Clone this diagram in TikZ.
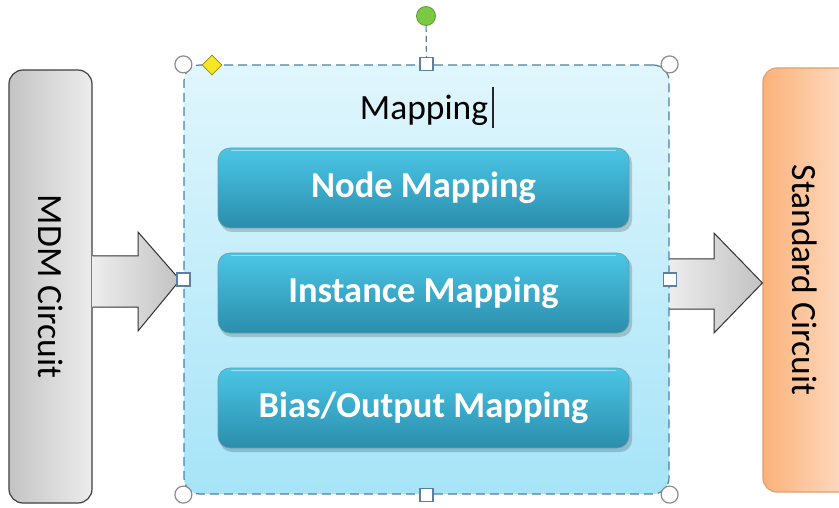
\documentclass[tikz,border=0pt]{standalone}
\usepackage{fontspec}
\setmainfont{Carlito}
\usetikzlibrary{calc,shapes.geometric}
\definecolor{mdmL}{HTML}{C4C4C4}
\definecolor{mdmR}{HTML}{ECECEC}
\definecolor{stdL}{HTML}{FBB27A}
\definecolor{stdR}{HTML}{FDE3D0}
\definecolor{mapT}{HTML}{E0F6FD}
\definecolor{mapB}{HTML}{A6E4F7}
\definecolor{mapD}{HTML}{4F7FA8}
\definecolor{btnT}{HTML}{4BC6E6}
\definecolor{btnB}{HTML}{2B8DAC}
\definecolor{btnE}{HTML}{1F7390}
\definecolor{arrL}{HTML}{EDEDED}
\definecolor{arrR}{HTML}{C2C2C2}
\definecolor{hdl}{HTML}{8A8A8A}
\definecolor{hsq}{HTML}{5A7FA0}
\definecolor{grn}{HTML}{7BC943}
\definecolor{grnD}{HTML}{5C9A32}
\definecolor{ylw}{HTML}{F7E626}
\tikzset{
  bigfont/.style={font=\fontsize{35.5}{42}\selectfont},
  sidebox/.style={rounded corners=14pt, line width=1.2pt, minimum width=83pt, inner sep=0pt, bigfont},
  btn/.style={rounded corners=12pt, minimum width=411pt, minimum height=80pt, inner sep=0pt,
    top color=btnT, bottom color=btnB, draw=btnE!70, line width=0.6pt,
    text=white, font=\fontsize{36.5}{42}\selectfont\bfseries},
  btnshadow/.style={rounded corners=12pt, fill=black, opacity=0.18},
  blockarrow/.style={draw=black!80, line width=1pt, line join=miter, left color=arrL, right color=arrR},
  corner/.style={circle, fill=white, draw=hdl, line width=1.2pt, minimum size=17pt, inner sep=0pt},
  sq/.style={rectangle, fill=white, draw=hsq, line width=1.2pt, minimum size=13pt, inner sep=0pt},
}
\begin{document}
\begin{tikzpicture}[x=1pt,y=-1pt]
\useasboundingbox (0,0) rectangle (839,508);
% side boxes
\node[sidebox, draw=black!75, left color=mdmL, right color=mdmR, minimum height=433pt] (mdm) at (50.5,286.5) {};
\node[bigfont, rotate=-90] (mdmtxt) at (mdm.center) {MDM Circuit};
\node[sidebox, draw=stdL!90!black, left color=stdL, right color=stdR, minimum width=100pt, minimum height=424pt] (std) at (813,280) {};
\node[bigfont, rotate=-90] (stdtxt) at (805,280) {Standard Circuit};
% block arrows
\coordinate (a1s) at (mdm.east |- 0,256);
\coordinate (a1t) at (180,280);
\draw[blockarrow] (a1s) -- (138,256) -- (138,232) -- (a1t) -- (138,331) -- (138,307) -- (mdm.east |- 0,307);
\coordinate (a2s) at (668,259);
\coordinate (a2t) at (std.west |- 0,283);
\draw[blockarrow] (a2s) -- (714,259) -- (714,233) -- (a2t) -- (714,333) -- (714,309) -- (668,309);
% mapping container
\node[rounded corners=16pt, top color=mapT, bottom color=mapB, draw=mapD, line width=1.2pt,
  dash pattern=on 9pt off 5pt, minimum width=485pt, minimum height=429pt, inner sep=0pt] (map) at (426.5,279.5) {};
\node[bigfont, anchor=base] (title) at (424,120) {Mapping};
\draw[line width=2.2pt, black!85] ($(title.base east)+(1,8)$) -- ($(title.base east)+(1,-33)$);
% buttons
\foreach \n/\y in {b1/188, b2/293, b3/408}{
  \fill[btnshadow] (220,\y-37) rectangle (632,\y+44);
}
\node[btn] (b1) at (423.5,188) {Node Mapping};
\node[btn] (b2) at (423.5,293) {Instance Mapping};
\node[btn] (b3) at (423.5,408) {Bias/Output Mapping};
\foreach \b in {b1,b2,b3}{
  \draw[white, opacity=0.45, line width=1.5pt, line cap=round] ($(\b.north west)+(14,3)$) -- ($(\b.north east)+(-14,3)$);
}
% selection handles
\node[corner] (c1) at (map.north west) {};
\node[corner] (c2) at (map.north east) {};
\node[corner] (c3) at (map.south west) {};
\node[corner] (c4) at (map.south east) {};
\node[sq] (s1) at (map.west) {};
\node[sq] (s2) at (map.east) {};
\node[sq] (s3) at (map.north) {};
\node[sq] (s4) at (map.south) {};
\node[circle, fill=grn, draw=grnD, line width=0.8pt, minimum size=19pt, inner sep=0pt] (rot) at (426,16) {};
\draw[hsq, line width=1.2pt, dash pattern=on 6pt off 4pt] (rot) -- (s3);
\node[diamond, fill=ylw, draw=ylw!60!black, line width=0.6pt, minimum size=20pt, inner sep=0pt] (dm) at (212,65) {};
\end{tikzpicture}
\end{document}
